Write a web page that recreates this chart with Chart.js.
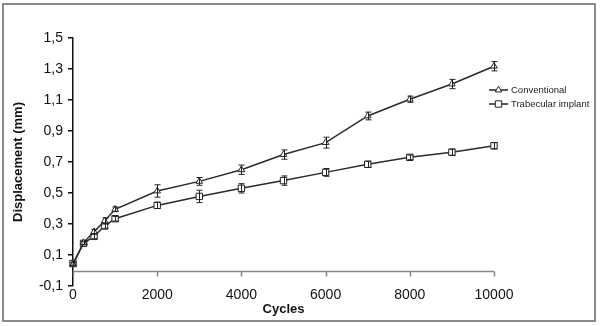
<!DOCTYPE html>
<html><head><meta charset="utf-8">
<script src="https://cdn.jsdelivr.net/npm/chart.js@4/dist/chart.umd.min.js"></script>
<style>html,body{margin:0;padding:0;background:#fff}canvas{display:block}</style>
</head><body><canvas id="c" width="600" height="326"></canvas>
<script>
const cycles = [0,250,500,750,1000,2000,3000,4000,5000,6000,7000,8000,9000,10000];
const conventional = [0.04,0.18,0.25,0.32,0.395,0.513,0.575,0.65,0.748,0.825,0.997,1.105,1.203,1.318];
const conventionalErr = [0.01,0.01,0.015,0.02,0.015,0.04,0.025,0.03,0.03,0.035,0.025,0.02,0.03,0.03];
const trabecular = [0.045,0.175,0.22,0.287,0.334,0.42,0.478,0.53,0.58,0.633,0.685,0.73,0.763,0.805];
const trabecularErr = [0.01,0.01,0.015,0.015,0.015,0.02,0.04,0.03,0.03,0.025,0.02,0.015,0.02,0.02];
const seriesLabels = ['Conventional','Trabecular implant'];
const xTicks = [0,2000,4000,6000,8000,10000];
const yTicks = [-0.1,0.1,0.3,0.5,0.7,0.9,1.1,1.3,1.5];

const errs = [conventionalErr, trabecularErr];
const FONT = "'Liberation Sans', Arial, sans-serif";

const errorBars = {
  id: 'errorBars',
  afterDatasetsDraw(chart) {
    const ctx = chart.ctx, xs = chart.scales.x, ys = chart.scales.y;
    ctx.save();
    ctx.strokeStyle = '#222';
    ctx.lineWidth = 1;
    chart.data.datasets.forEach((ds, di) => {
      ds.data.forEach((p, i) => {
        const e = errs[di][i];
        const x = Math.round(xs.getPixelForValue(p.x)) + 0.5;
        const y1 = ys.getPixelForValue(p.y + e), y2 = ys.getPixelForValue(p.y - e);
        ctx.beginPath();
        ctx.moveTo(x, y1); ctx.lineTo(x, y2);
        ctx.moveTo(x - 3, y1); ctx.lineTo(x + 3, y1);
        ctx.moveTo(x - 3, y2); ctx.lineTo(x + 3, y2);
        ctx.stroke();
      });
    });
    ctx.restore();
  }
};

const decorations = {
  id: 'decorations',
  beforeDatasetsDraw(chart) {
    const ctx = chart.ctx, xs = chart.scales.x, ys = chart.scales.y;
    const y0 = Math.round(ys.getPixelForValue(0)) + 0.5;
    ctx.save();
    ctx.strokeStyle = '#888';
    ctx.lineWidth = 1.5;
    ctx.beginPath();
    ctx.moveTo(xs.getPixelForValue(0), y0);
    ctx.lineTo(xs.getPixelForValue(10000), y0);
    xTicks.forEach(v => {
      const x = Math.round(xs.getPixelForValue(v)) + 0.5;
      ctx.moveTo(x, y0); ctx.lineTo(x, y0 + 5);
    });
    ctx.stroke();
    ctx.restore();
  },
  afterDraw(chart) {
    const ctx = chart.ctx;
    ctx.save();
    // outer frame
    ctx.strokeStyle = '#8a8a8a';
    ctx.lineWidth = 2;
    ctx.strokeRect(3, 4, 592, 317);
    // legend
    const items = [
      {label: seriesLabels[0], style: 'triangle', y: 90},
      {label: seriesLabels[1], style: 'rect', y: 104}
    ];
    items.forEach(it => {
      ctx.strokeStyle = '#222';
      ctx.lineWidth = 1.5;
      ctx.beginPath();
      ctx.moveTo(489, it.y); ctx.lineTo(508, it.y);
      ctx.stroke();
      ctx.lineWidth = 1;
      ctx.fillStyle = '#fff';
      Chart.helpers.drawPoint(ctx, {pointStyle: it.style, radius: it.style === 'rect' ? 4.5 : 3.8, borderWidth: 1}, 498.5, it.y);
      ctx.fillStyle = '#222';
      ctx.font = '9.5px ' + FONT;
      ctx.textBaseline = 'middle';
      ctx.textAlign = 'left';
      ctx.fillText(it.label, 511, it.y);
    });
    ctx.restore();
  }
};

new Chart(document.getElementById('c'), {
  type: 'line',
  data: {
    datasets: [
      {
        label: seriesLabels[0],
        data: cycles.map((c, i) => ({x: c, y: conventional[i]})),
        borderColor: '#2a2a2a', borderWidth: 1.5,
        pointStyle: 'triangle', pointRadius: 3.8,
        pointBackgroundColor: '#fff', pointBorderColor: '#222', pointBorderWidth: 1,
        tension: 0, clip: false
      },
      {
        label: seriesLabels[1],
        data: cycles.map((c, i) => ({x: c, y: trabecular[i]})),
        borderColor: '#2a2a2a', borderWidth: 1.5,
        pointStyle: 'rect', pointRadius: 4.5,
        pointBackgroundColor: '#fff', pointBorderColor: '#222', pointBorderWidth: 1,
        tension: 0, clip: false
      }
    ]
  },
  options: {
    responsive: false,
    animation: false,
    devicePixelRatio: 1,
    layout: {padding: {left: 0, top: 38, right: 106, bottom: 0}},
    plugins: {legend: {display: false}, tooltip: {enabled: false}},
    scales: {
      x: {
        type: 'linear', min: 0, max: 10000,
        afterBuildTicks: s => { s.ticks = xTicks.map(v => ({value: v})); },
        afterFit: s => { s.height = 40; },
        border: {display: false},
        grid: {display: false, drawTicks: false, tickLength: 0},
        ticks: {color: '#111', font: {family: FONT, size: 14}, padding: 1, maxRotation: 0,
                callback: v => String(v)},
        title: {display: true, text: 'Cycles', color: '#111',
                font: {family: FONT, size: 13, weight: 'bold'}, padding: {top: 0, bottom: 9}}
      },
      y: {
        type: 'linear', min: -0.1, max: 1.5,
        afterBuildTicks: s => { s.ticks = yTicks.map(v => ({value: v})); },
        afterFit: s => { s.width = 73; },
        border: {display: true, color: '#111', width: 1.5},
        grid: {drawOnChartArea: false, drawTicks: true, tickLength: 5, color: '#111', lineWidth: 1.5},
        ticks: {color: '#111', font: {family: FONT, size: 14}, padding: 5,
                callback: v => v.toFixed(1).replace('.', ',')},
        title: {display: true, text: 'Displacement (mm)', color: '#111',
                font: {family: FONT, size: 13, weight: 'bold'}, padding: {top: 11, bottom: 0}}
      }
    }
  },
  plugins: [errorBars, decorations]
});
</script>
</body></html>
